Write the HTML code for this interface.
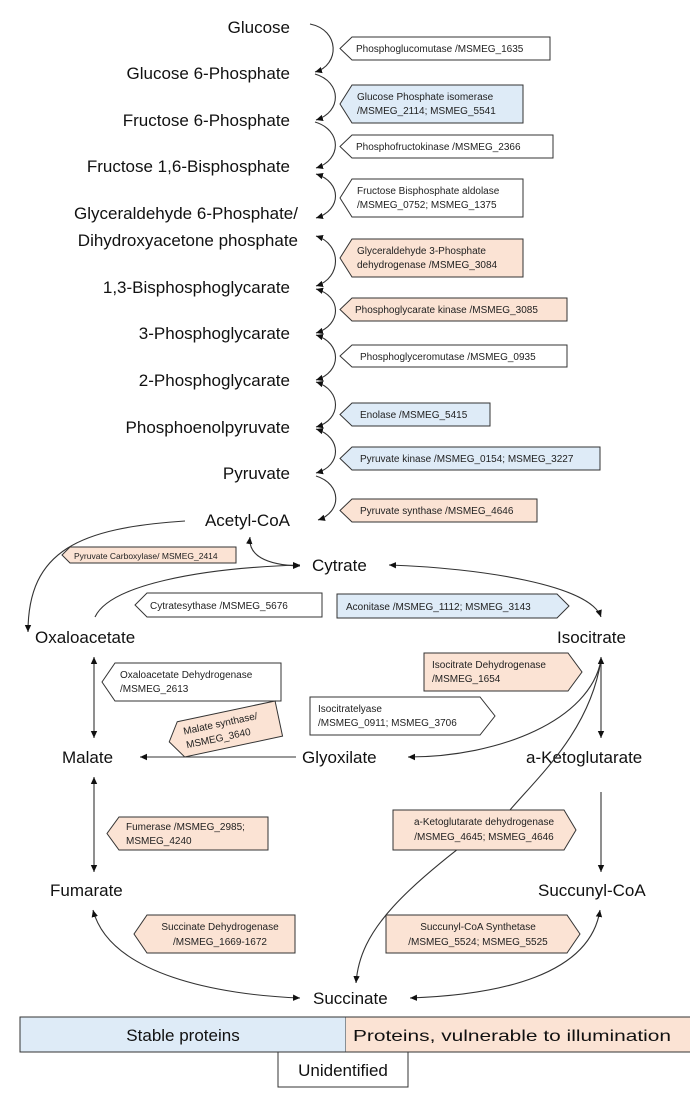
<!DOCTYPE html>
<html><head><meta charset="utf-8"><style>
html,body{margin:0;padding:0;background:#fff;}
svg{display:block;font-family:"Liberation Sans",sans-serif;}
.m{font-size:17px;fill:#111;}
.e{font-size:10px;fill:#222;}
.ln{fill:none;stroke:#333;stroke-width:1.1;}
.w{fill:#fff;stroke:#333;stroke-width:1;}
.b{fill:#deebf7;stroke:#333;stroke-width:1;}
.p{fill:#fbe3d4;stroke:#333;stroke-width:1;}
</style></head><body>
<svg width="690" height="1103" viewBox="0 0 690 1103" xmlns="http://www.w3.org/2000/svg">
<defs><marker id="a" markerWidth="8" markerHeight="8" refX="7" refY="4" orient="auto-start-reverse" markerUnits="userSpaceOnUse"><path d="M0,0.8 L7,4 L0,7.2 Z" fill="#111"/></marker></defs>

<g class="m" text-anchor="end">
<text x="290" y="33">Glucose</text>
<text x="290" y="79">Glucose 6-Phosphate</text>
<text x="290" y="126">Fructose 6-Phosphate</text>
<text x="290" y="172">Fructose 1,6-Bisphosphate</text>
<text x="298" y="219">Glyceraldehyde 6-Phosphate/</text>
<text x="298" y="246">Dihydroxyacetone phosphate</text>
<text x="290" y="293">1,3-Bisphosphoglycarate</text>
<text x="290" y="339">3-Phosphoglycarate</text>
<text x="290" y="386">2-Phosphoglycarate</text>
<text x="290" y="433">Phosphoenolpyruvate</text>
<text x="290" y="479">Pyruvate</text>
<text x="290" y="526">Acetyl-CoA</text>
</g>

<g class="ln" marker-end="url(#a)">
<path d="M310,24 C340,30 340,65 315,72"/>
<path d="M315,74 C342,82 342,112 316,120"/>
<path d="M315,122 C342,130 342,160 316,168"/>
<path d="M316,476 C342,484 342,512 318,520"/>
</g>
<g class="ln" marker-end="url(#a)" marker-start="url(#a)">
<path d="M316,174 C342,182 342,210 316,218"/>
<path d="M316,236 C342,244 342,278 316,286"/>
<path d="M316,289 C342,296 342,325 316,333"/>
<path d="M316,335 C342,343 342,372 316,380"/>
<path d="M316,382 C342,390 342,420 316,427"/>
<path d="M316,429 C342,437 342,466 316,473"/>
</g>

<polygon class="w" points="352,37 550,37 550,60 352,60 340,48.5"/>
<text class="e" x="356" y="52">Phosphoglucomutase /MSMEG_1635</text>
<polygon class="b" points="352,85 523,85 523,123 352,123 340,104"/>
<text class="e" x="357" y="100">Glucose Phosphate isomerase</text>
<text class="e" x="357" y="114">/MSMEG_2114;  MSMEG_5541</text>
<polygon class="w" points="352,135 553,135 553,158 352,158 340,146.5"/>
<text class="e" x="356" y="150">Phosphofructokinase /MSMEG_2366</text>
<polygon class="w" points="352,179 523,179 523,217 352,217 340,198"/>
<text class="e" x="357" y="194">Fructose Bisphosphate aldolase</text>
<text class="e" x="357" y="208">/MSMEG_0752;  MSMEG_1375</text>
<polygon class="p" points="352,239 523,239 523,277 352,277 340,258"/>
<text class="e" x="357" y="254">Glyceraldehyde 3-Phosphate</text>
<text class="e" x="357" y="268">dehydrogenase /MSMEG_3084</text>
<polygon class="p" points="352,298 567,298 567,321 352,321 340,309.5"/>
<text class="e" x="355" y="313">Phosphoglycarate kinase /MSMEG_3085</text>
<polygon class="w" points="352,345 567,345 567,367 352,367 340,356"/>
<text class="e" x="360" y="360">Phosphoglyceromutase /MSMEG_0935</text>
<polygon class="b" points="352,403 490,403 490,426 352,426 340,414.5"/>
<text class="e" x="360" y="418">Enolase /MSMEG_5415</text>
<polygon class="b" points="352,447 600,447 600,470 352,470 340,458.5"/>
<text class="e" x="360" y="462">Pyruvate kinase /MSMEG_0154; MSMEG_3227</text>
<polygon class="p" points="352,499 537,499 537,522 352,522 340,510.5"/>
<text class="e" x="360" y="514">Pyruvate synthase /MSMEG_4646</text>

<g class="m">
<text x="312" y="571">Cytrate</text>
<text x="35" y="643">Oxaloacetate</text>
<text x="557" y="643">Isocitrate</text>
<text x="62" y="763">Malate</text>
<text x="302" y="763">Glyoxilate</text>
<text x="526" y="763">a-Ketoglutarate</text>
<text x="50" y="896">Fumarate</text>
<text x="538" y="896">Succunyl-CoA</text>
<text x="313" y="1004">Succinate</text>
</g>

<g class="ln" marker-end="url(#a)">
<path d="M185,521 C80,528 28,550 28,632"/>
<path d="M95,617 C110,585 200,568 300,565"/>
<path d="M296,757 L140,757"/>
<path d="M601,660 C590,720 500,757 408,757"/>
<path d="M601,660 C590,730 540,775 510,810 C400,890 360,930 356,983"/>
</g>
<g class="ln" marker-end="url(#a)" marker-start="url(#a)">
<path d="M250,537 C248,555 265,565 300,566"/>
<path d="M94,657 L94,738"/>
<path d="M94,777 L94,872"/>
<path d="M601,657 L601,738"/>
<path d="M389,565 C480,568 590,585 601,617"/>
<path d="M93,910 C110,975 220,995 300,998"/>
<path d="M410,998 C500,995 590,975 600,910"/>
</g>
<path class="ln" d="M601,792 L601,872" marker-end="url(#a)"/>

<polygon class="p" points="70,547 236,547 236,563 70,563 62,555"/>
<text x="74" y="559" style="font-size:8.5px;fill:#222">Pyruvate Carboxylase/ MSMEG_2414</text>
<polygon class="w" points="147,593 322,593 322,617 147,617 135,605"/>
<text class="e" x="150" y="609">Cytratesythase /MSMEG_5676</text>
<polygon class="b" points="337,594 557,594 569,606 557,618 337,618"/>
<text class="e" x="346" y="610">Aconitase /MSMEG_1112; MSMEG_3143</text>
<polygon class="w" points="115,663 281,663 281,701 115,701 102,682"/>
<text class="e" x="120" y="678">Oxaloacetate Dehydrogenase</text>
<text class="e" x="120" y="692">/MSMEG_2613</text>
<polygon class="p" points="424,653 568,653 582,672 568,691 424,691"/>
<text class="e" x="432" y="668">Isocitrate Dehydrogenase</text>
<text class="e" x="432" y="682">/MSMEG_1654</text>
<polygon class="w" points="310,697 480,697 495,716 480,735 310,735"/>
<text class="e" x="318" y="712">Isocitratelyase</text>
<text class="e" x="318" y="726">/MSMEG_0911; MSMEG_3706</text>
<g transform="rotate(-12 225 730)">
<polygon class="p" points="180,712 280,712 280,748 180,748 168,730"/>
<text class="e" x="184" y="726">Malate synthase/</text>
<text class="e" x="184" y="740">MSMEG_3640</text>
</g>
<polygon class="p" points="119,817 268,817 268,850 119,850 107,833.5"/>
<text class="e" x="126" y="830">Fumerase /MSMEG_2985;</text>
<text class="e" x="126" y="844">MSMEG_4240</text>
<polygon class="p" points="393,810 564,810 576,830 564,850 393,850"/>
<text class="e" x="484" y="825" text-anchor="middle">a-Ketoglutarate dehydrogenase</text>
<text class="e" x="484" y="840" text-anchor="middle">/MSMEG_4645; MSMEG_4646</text>
<polygon class="p" points="147,915 295,915 295,953 147,953 134,934"/>
<text class="e" x="220" y="930" text-anchor="middle">Succinate Dehydrogenase</text>
<text class="e" x="220" y="945" text-anchor="middle">/MSMEG_1669-1672</text>
<polygon class="p" points="386,915 567,915 580,934 567,953 386,953"/>
<text class="e" x="478" y="930" text-anchor="middle">Succunyl-CoA Synthetase</text>
<text class="e" x="478" y="945" text-anchor="middle">/MSMEG_5524; MSMEG_5525</text>

<rect x="20" y="1017" width="326" height="35" fill="#deebf7" stroke="#333"/>
<rect x="346" y="1017" width="344" height="35" fill="#fbe3d4"/>
<line x1="346" y1="1017" x2="690" y2="1017" stroke="#333"/>
<line x1="346" y1="1052" x2="690" y2="1052" stroke="#333"/>
<text class="m" x="183" y="1041" text-anchor="middle">Stable proteins</text>
<text x="512" y="1041" text-anchor="middle" style="font-size:16px;fill:#111" textLength="318" lengthAdjust="spacingAndGlyphs">Proteins, vulnerable to illumination</text>
<rect x="278" y="1052" width="130" height="35" fill="#fff" stroke="#333"/>
<text class="m" x="343" y="1076" text-anchor="middle">Unidentified</text>
</svg>
</body></html>
